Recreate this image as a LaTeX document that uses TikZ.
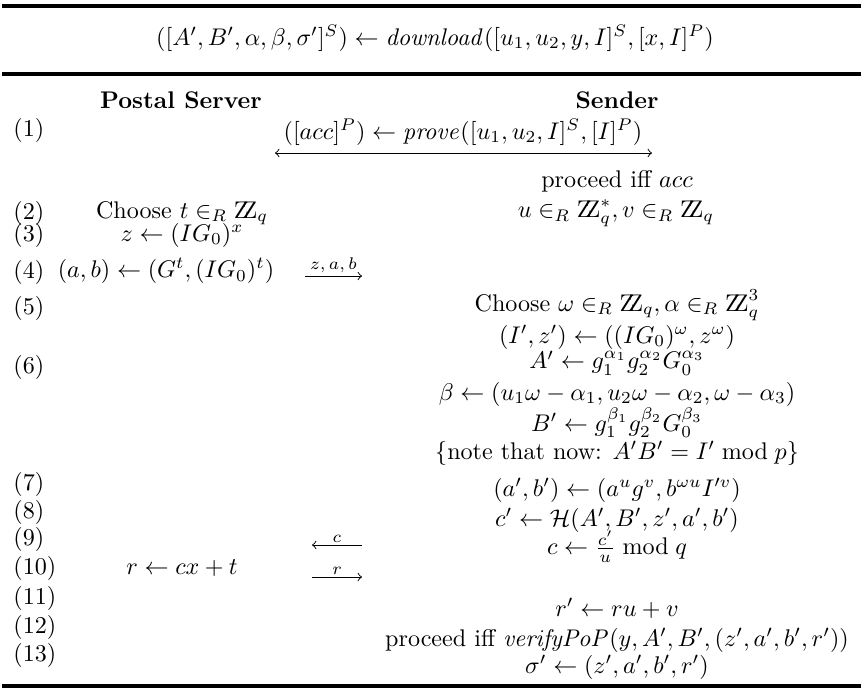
\documentclass[tikz,border=0pt]{standalone}
\usepackage{amsmath,amssymb}
\newcommand{\ZZ}{\mathrm{Z\mkern-4.5mu Z}}
\begin{document}
\begin{tikzpicture}[x=0.415pt,y=-0.415pt,
  lbl/.style={anchor=west,inner sep=0pt},
  rul/.style={line width=1.5pt},
  msg/.style={inner sep=1pt,font=\scriptsize}]
\useasboundingbox (0,0) rectangle (861,690);
% rules and title
\draw[rul] (2,6) -- (861,6);
\draw[rul] (2,74) -- (861,74);
\draw[rul] (2,686) -- (861,686);
\node (title) at (435,38) {$([A',B',\alpha,\beta,\sigma']^S) \leftarrow \mathit{download}([u_1,u_2,y,I]^S,[x,I]^P)$};
% headers
\node (ps) at (181,100) {\textbf{Postal Server}};
\node (snd) at (617,100) {\textbf{Sender}};
% step numbers
\foreach \y [count=\i] in {130,213,235,272,308,367,484,512,539,568,598,627,655}
  \node[lbl] (n\i) at (13,\y) {(\i)};
% (1)
\node (prv) at (463,132) {$([acc]^P) \leftarrow \mathit{prove}([u_1,u_2,I]^S,[I]^P)$};
\coordinate (p0) at (275,153);
\coordinate (p1) at (652,153);
\draw[<->] (p0) -- (p1);
\node (acc) at (617,181) {proceed iff $acc$};
% (2)-(4)
\node (chs) at (182,213) {Choose $t \in_R \ZZ_q$};
\node (uv) at (616,213) {$u \in_R \ZZ^*_q, v \in_R \ZZ_q$};
\node (z) at (182,235) {$z \leftarrow (IG_0)^x$};
\node (ab) at (166,271) {$(a,b) \leftarrow (G^t,(IG_0)^t)$};
\coordinate (za0) at (305,276);
\coordinate (za1) at (362,276);
\draw[->] (za0) -- (za1) node[midway,above,msg] (zab) {$z,a,b$};
% (5)-(8)
\node (w) at (617,305) {Choose $\omega \in_R \ZZ_q, \alpha \in_R \ZZ^3_q$};
\node (iz) at (617,337) {$(I',z') \leftarrow ((IG_0)^\omega,z^\omega)$};
\node (ap) at (617,363) {$A' \leftarrow g_1^{\alpha_1}g_2^{\alpha_2}G_0^{\alpha_3}$};
\node (bt) at (617,394) {$\beta \leftarrow (u_1\omega-\alpha_1,u_2\omega-\alpha_2,\omega-\alpha_3)$};
\node (bp) at (617,423) {$B' \leftarrow g_1^{\beta_1}g_2^{\beta_2}G_0^{\beta_3}$};
\node (note) at (617,453) {\{note that now: $A'B' = I' \bmod p$\}};
\node (abp) at (617,490) {$(a',b') \leftarrow (a^u g^v, b^{\omega u} I'^v)$};
\node (cp) at (617,520) {$c' \leftarrow \mathcal{H}(A',B',z',a',b')$};
% (9)-(13)
\node (c) at (617,547) {$c \leftarrow \frac{c'}{u} \bmod q$};
\coordinate (c0) at (362,545);
\coordinate (c1) at (312,545);
\draw[->] (c0) -- (c1) node[midway,above,msg] (cl) {$c$};
\node (r) at (182,568) {$r \leftarrow cx+t$};
\coordinate (r0) at (312,577);
\coordinate (r1) at (362,577);
\draw[->] (r0) -- (r1) node[midway,above,msg] (rl) {$r$};
\node (rp) at (617,608) {$r' \leftarrow ru+v$};
\node (ver) at (617,640) {proceed iff $\mathit{verifyPoP}(y,A',B',(z',a',b',r'))$};
\node (sg) at (617,667) {$\sigma' \leftarrow (z',a',b',r')$};
\end{tikzpicture}
\end{document}
